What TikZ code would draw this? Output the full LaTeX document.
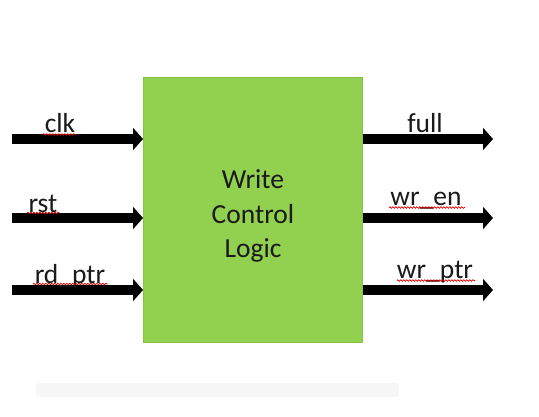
\documentclass[tikz,border=0pt]{standalone}
\usepackage{fontspec}
\setmainfont{Carlito}
\usetikzlibrary{arrows.meta,decorations.pathmorphing}
\definecolor{boxgreen}{HTML}{92D050}
\definecolor{boxedge}{HTML}{86C243}
\definecolor{txt}{HTML}{1A1A1A}
\definecolor{faint}{HTML}{F7F7F7}
\begin{document}
\begin{tikzpicture}[x=1pt,y=-1pt,
  arr/.style={line width=10pt,-{Triangle[length=10pt,width=22pt]}},
  lbl/.style={font=\fontsize{27.5}{33}\selectfont, text=txt, inner sep=0pt, anchor=base},
  squig/.style={red!85!black, line width=0.7pt, decorate, decoration={snake, amplitude=0.8pt, segment length=3pt}}]
\useasboundingbox (0,0) rectangle (539,416);
% faint UI strip at the bottom
\fill[faint, rounded corners=3pt] (36,383) rectangle (399,397);
% main block
\node[draw=boxedge, line width=0.8pt, fill=boxgreen, minimum width=219pt, minimum height=265pt,
      anchor=north west, inner sep=0pt] (box) at (143,77) {};
\node[lbl] (t1) at (253,188) {Write};
\node[lbl] (t2) at (253,223) {Control};
\node[lbl] (t3) at (253,257) {Logic};
% ports
\coordinate (in1) at (12,139);
\coordinate (in2) at (12,218);
\coordinate (in3) at (12,290);
\coordinate (o1) at (493,139);
\coordinate (o2) at (493,218);
\coordinate (o3) at (493,290);
\draw[arr] (in1) -- (in1 -| box.west);
\draw[arr] (in2) -- (in2 -| box.west);
\draw[arr] (in3) -- (in3 -| box.west);
\draw[arr] (box.east |- o1) -- (o1);
\draw[arr] (box.east |- o2) -- (o2);
\draw[arr] (box.east |- o3) -- (o3);
% labels
\node[lbl] (lclk) at (60,132) {clk};
\node[lbl] (lrst) at (43,212) {rst};
\node[lbl] (lrd) at (70,283) {rd\_ptr};
\node[lbl] (lfull) at (425,132) {full};
\node[lbl] (lwen) at (426,205) {wr\_en};
\node[lbl] (lwptr) at (435,278) {wr\_ptr};
% spell-check squiggles
\draw[squig] (43,134.5) -- (76,134.5);
\draw[squig] (27,213) -- (60,213);
\draw[squig] (33,284) -- (108,284);
\draw[squig] (389,207.5) -- (465,207.5);
\draw[squig] (397,280.5) -- (475,280.5);
\end{tikzpicture}
\end{document}
